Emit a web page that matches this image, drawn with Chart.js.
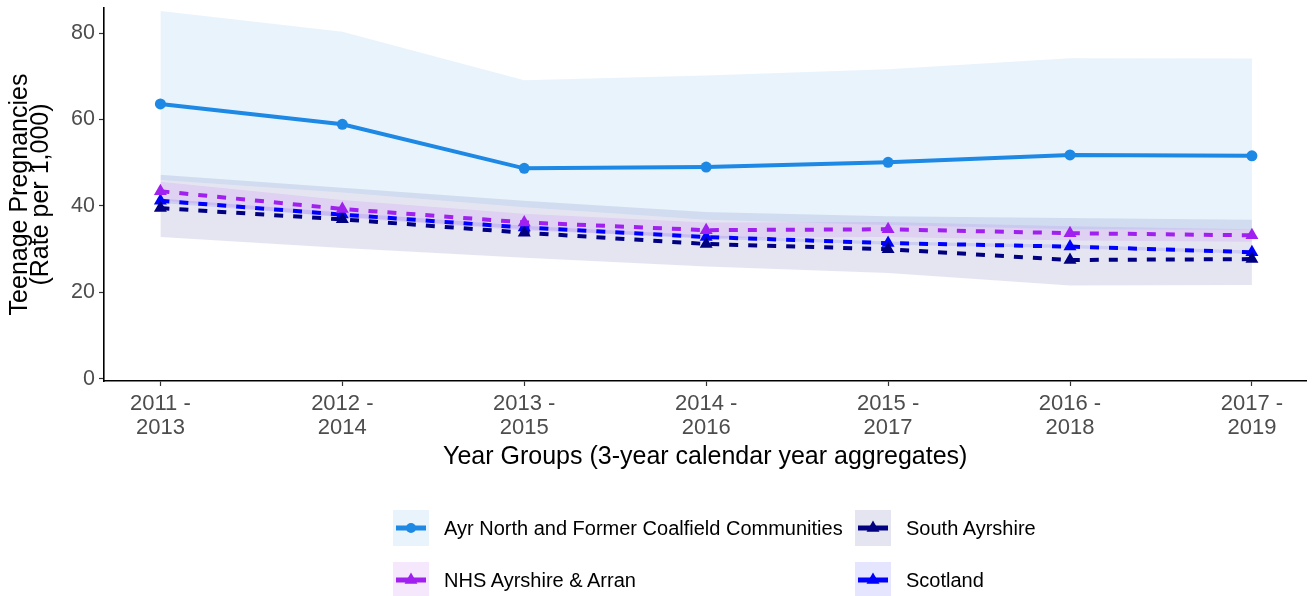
<!DOCTYPE html>
<html>
<head>
<meta charset="utf-8">
<script src="https://cdn.jsdelivr.net/npm/chart.js@4/dist/chart.umd.min.js"></script>
<style>
  html, body { margin: 0; padding: 0; background: #fff; }
  #wrap { position: relative; width: 1314px; height: 596px; }
  #c { position: absolute; left: 0; top: 0; }
  .leg { position: absolute; display: flex; align-items: center; font-family: 'Liberation Sans', Arial, sans-serif; font-size: 20px; color: #000; white-space: nowrap; }
  .leg svg { display: block; margin-right: 15px; }
</style>
</head>
<body>
<div id="wrap">
  <canvas id="c" width="1314" height="596"></canvas>
  <div id="legend"></div>
</div>
<script>
// ---- Data ----
const yearGroups = ['2011 - 2013', '2012 - 2014', '2013 - 2015', '2014 - 2016', '2015 - 2017', '2016 - 2018', '2017 - 2019'];
const yTicks = [0, 20, 40, 60, 80];

const seriesNames = ['Ayr North and Former Coalfield Communities', 'NHS Ayrshire & Arran', 'South Ayrshire', 'Scotland'];

const ayrValues = [63.6, 58.9, 48.7, 49.0, 50.1, 51.8, 51.6];
const ayrUpper  = [85.1, 80.3, 69.1, 70.2, 71.6, 74.2, 74.1];
const ayrLower  = [46.0, 43.1, 39.7, 36.8, 35.6, 34.6, 34.5];

const nhsValues = [43.4, 39.3, 36.2, 34.4, 34.6, 33.7, 33.2];
const nhsUpper  = [45.6, 41.4, 38.2, 36.2, 36.3, 35.3, 34.6];
const nhsLower  = [41.3, 37.3, 34.3, 32.6, 32.8, 32.0, 31.7];

const saValues  = [39.5, 36.9, 33.8, 31.2, 30.0, 27.5, 27.7];
const saUpper   = [47.2, 44.2, 41.2, 38.6, 37.6, 37.2, 36.8];
const saLower   = [32.8, 30.3, 28.0, 26.0, 24.5, 21.6, 21.7];

const scotValues = [41.2, 38.0, 35.0, 32.8, 31.4, 30.6, 29.3];
const scotUpper  = [41.7, 38.5, 35.4, 33.2, 31.8, 31.0, 29.7];
const scotLower  = [40.7, 37.5, 34.6, 32.4, 31.0, 30.2, 28.9];

// ---- Styles ----
const colors = ['#1E88E5', '#A020F0', '#000080', '#0000FF'];
const fills  = ['rgba(30,136,229,0.1)', 'rgba(160,32,240,0.1)', 'rgba(0,0,128,0.1)', 'rgba(0,0,255,0.1)'];
const FONT = "'Liberation Sans', Arial, sans-serif";

const pts = arr => arr.map((v, i) => ({ x: i, y: v }));

const lineSets = [
  { vals: ayrValues, style: 'circle', dash: [], radius: 5.5 },
  { vals: nhsValues, style: 'triangle', dash: [9, 10], radius: 7.5 },
  { vals: saValues, style: 'triangle', dash: [9, 10], radius: 7.5 },
  { vals: scotValues, style: 'triangle', dash: [9, 10], radius: 7.5 }
];
const bandSets = [
  [ayrUpper, ayrLower], [nhsUpper, nhsLower], [saUpper, saLower], [scotUpper, scotLower]
];

const datasets = [];
lineSets.forEach((s, k) => {
  datasets.push({
    label: seriesNames[k],
    data: pts(s.vals),
    borderColor: colors[k],
    backgroundColor: colors[k],
    borderWidth: 4,
    borderDash: s.dash,
    pointStyle: s.style,
    pointRadius: s.radius,
    pointBorderWidth: 0,
    pointBackgroundColor: colors[k],
    fill: false,
    tension: 0,
    order: k
  });
});
bandSets.forEach((b, k) => {
  datasets.push({
    label: seriesNames[k] + ' upper',
    data: pts(b[0]),
    borderWidth: 0,
    borderColor: 'rgba(0,0,0,0)',
    pointRadius: 0,
    backgroundColor: fills[k],
    fill: '+1',
    tension: 0,
    order: 10 + k
  });
  datasets.push({
    label: seriesNames[k] + ' lower',
    data: pts(b[1]),
    borderWidth: 0,
    borderColor: 'rgba(0,0,0,0)',
    pointRadius: 0,
    fill: false,
    tension: 0,
    order: 10 + k
  });
});

new Chart(document.getElementById('c'), {
  type: 'line',
  data: { datasets },
  options: {
    responsive: false,
    animation: false,
    events: [],
    layout: { padding: { top: 8, right: 4, bottom: 126, left: 0 } },
    plugins: {
      legend: { display: false },
      tooltip: { enabled: false },
      filler: { drawTime: 'beforeDatasetsDraw' }
    },
    scales: {
      x: {
        type: 'linear',
        min: -0.31,
        max: 6.3,
        afterBuildTicks: s => { s.ticks = yearGroups.map((g, i) => ({ value: i })); },
        afterFit: s => { s.height = 89; s.paddingLeft = 0; s.paddingRight = 0; },
        ticks: {
          autoSkip: false,
          maxRotation: 0,
          padding: 6,
          color: '#4D4D4D',
          font: { family: FONT, size: 22, lineHeight: 1.09 },
          callback: v => {
            const g = yearGroups[Math.round(v)];
            if (g === undefined) return '';
            const p = g.split(' - ');
            return [p[0] + ' -', p[1]];
          }
        },
        grid: { drawOnChartArea: false, drawTicks: true, tickLength: 5, tickColor: '#333', tickWidth: 1.2 },
        border: { display: true, color: '#000', width: 1.6 },
        title: {
          display: true,
          text: 'Year Groups (3-year calendar year aggregates)',
          color: '#000',
          font: { family: FONT, size: 25, lineHeight: 1.0 },
          padding: { top: 0, bottom: 0 }
        }
      },
      y: {
        type: 'linear',
        min: -0.5,
        max: 85.8,
        afterBuildTicks: s => { s.ticks = yTicks.map(v => ({ value: v })); },
        afterFit: s => { s.width = 104; s.paddingTop = 0; s.paddingBottom = 0; },
        ticks: {
          padding: 4,
          color: '#4D4D4D',
          font: { family: FONT, size: 21.5 }
        },
        grid: { drawOnChartArea: false, drawTicks: true, tickLength: 5, tickColor: '#333', tickWidth: 1.2 },
        border: { display: true, color: '#000', width: 1.6 },
        title: {
          display: true,
          text: ['Teenage Pregnancies', '(Rate per 1,000)'],
          color: '#000',
          font: { family: FONT, size: 25, lineHeight: 0.86 },
          padding: { top: 9.3, bottom: 0 }
        }
      }
    }
  }
});

// ---- HTML legend (2 columns, column-major like the reference) ----
const legendPos = [
  { left: 393, top: 510 },
  { left: 393, top: 562 },
  { left: 855, top: 510 },
  { left: 855, top: 562 }
];
const legendEl = document.getElementById('legend');
seriesNames.forEach((name, k) => {
  const c = colors[k];
  const marker = k === 0
    ? `<circle cx="18" cy="18" r="5" fill="${c}"/>`
    : `<polygon points="18,10.5 24.5,21.7 11.5,21.7" fill="${c}"/>`;
  const div = document.createElement('div');
  div.className = 'leg';
  div.style.left = legendPos[k].left + 'px';
  div.style.top = legendPos[k].top + 'px';
  div.style.height = '36px';
  div.innerHTML = `<svg width="36" height="36"><rect x="0" y="0" width="36" height="36" fill="${fills[k]}"/>` +
    `<line x1="3" y1="18" x2="33" y2="18" stroke="${c}" stroke-width="5"/>${marker}</svg><span>${name}</span>`;
  legendEl.appendChild(div);
});
</script>
</body>
</html>
